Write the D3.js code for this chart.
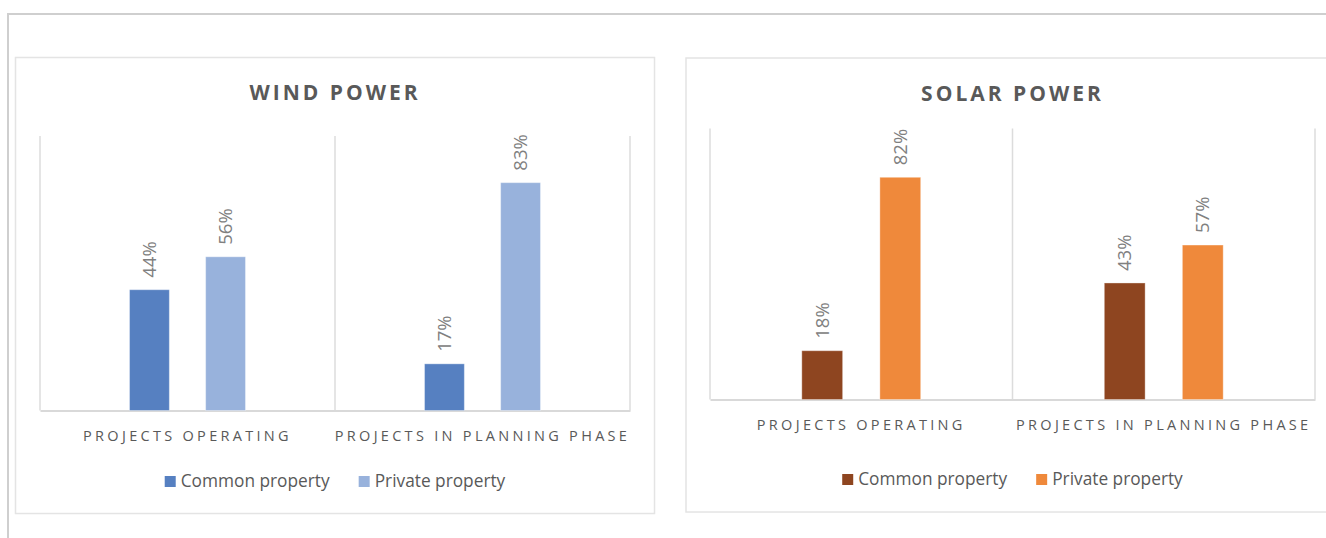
<!DOCTYPE html>
<html>
<head>
<meta charset="utf-8">
<script src="https://cdn.jsdelivr.net/npm/d3@7"></script>
<style>
  html, body { margin: 0; padding: 0; background: #fff; }
  svg { display: block; }
  text { font-family: "Open Sans", "Noto Sans", sans-serif; }
</style>
</head>
<body>
<svg id="chart" width="1326" height="538"></svg>
<script>
// Share of projects by land ownership
const categories = ["PROJECTS OPERATING", "PROJECTS IN PLANNING PHASE"];
const seriesNames = ["Common property", "Private property"];

const windCommon = [0.44, 0.17];
const windPrivate = [0.56, 0.83];
const solarCommon = [0.18, 0.43];
const solarPrivate = [0.82, 0.57];

const panels = [
  {
    title: "WIND POWER",
    common: windCommon, priv: windPrivate,
    colors: ["#5680c1", "#98b2dc"],
    box: { x: 15.5, y: 57.5, w: 639, h: 456 },
    plot: { left: 40, right: 630, top: 136, bottom: 410.5 },
    titleY: 99.5, catY: 441, legendY: 482
  },
  {
    title: "SOLAR POWER",
    common: solarCommon, priv: solarPrivate,
    colors: ["#8e4520", "#ef893b"],
    box: { x: 686, y: 58, w: 700, h: 454 },
    plot: { left: 710, right: 1315, top: 128.5, bottom: 399.5 },
    titleY: 101, catY: 429.5, legendY: 480
  }
];

const svg = d3.select("#chart");
svg.append("rect").attr("width", 1326).attr("height", 538).attr("fill", "#fff");

// outer page frame
svg.append("path")
  .attr("d", "M8,538 V14 H1326")
  .attr("fill", "none").attr("stroke", "#cfcfcf").attr("stroke-width", 2);

panels.forEach(p => {
  const g = svg.append("g");

  g.append("rect")
    .attr("x", p.box.x).attr("y", p.box.y)
    .attr("width", p.box.w).attr("height", p.box.h)
    .attr("fill", "#fff").attr("stroke", "#e4e4e4").attr("stroke-width", 1.5);

  const x0 = d3.scaleBand().domain(categories)
    .range([p.plot.left, p.plot.right]).padding(0);
  const bw = x0.bandwidth();
  const x1 = d3.scaleBand().domain(seriesNames)
    .range([0.3035 * bw, 0.6965 * bw]).paddingInner(0.477).paddingOuter(0);
  const y = d3.scaleLinear().domain([0, 1]).range([p.plot.bottom, p.plot.top]);

  // vertical category separators
  const edges = categories.map(c => x0(c)).concat([p.plot.right]);
  g.selectAll("line.sep").data(edges).join("line")
    .attr("class", "sep")
    .attr("x1", d => d).attr("x2", d => d)
    .attr("y1", y(1)).attr("y2", y(0))
    .attr("stroke", "#dcdcdc").attr("stroke-width", 1.5);

  // baseline axis
  const axis = g.append("g")
    .attr("transform", `translate(0,${y(0)})`)
    .call(d3.axisBottom(x0).tickSize(0).tickFormat(""));
  axis.select(".domain").attr("stroke", "#d9d9d9").attr("stroke-width", 2);

  // title
  g.append("text")
    .attr("x", (p.plot.left + p.plot.right) / 2)
    .attr("y", p.titleY)
    .attr("text-anchor", "middle")
    .attr("font-size", 21).attr("font-weight", 700)
    .attr("letter-spacing", "3px")
    .attr("fill", "#595959")
    .text(p.title);

  // bars
  const rows = categories.map((c, i) => ({
    cat: c,
    vals: [
      { s: seriesNames[0], v: p.common[i], color: p.colors[0] },
      { s: seriesNames[1], v: p.priv[i], color: p.colors[1] }
    ]
  }));

  const cg = g.selectAll("g.cat").data(rows).join("g")
    .attr("class", "cat")
    .attr("transform", d => `translate(${x0(d.cat)},0)`);

  cg.selectAll("rect").data(d => d.vals).join("rect")
    .attr("x", d => x1(d.s))
    .attr("width", x1.bandwidth())
    .attr("y", d => y(d.v))
    .attr("height", d => y(0) - y(d.v))
    .attr("fill", d => d.color)
    .attr("stroke", "#ffffff").attr("stroke-opacity", 0.35).attr("stroke-width", 1);

  cg.selectAll("text.val").data(d => d.vals).join("text")
    .attr("class", "val")
    .attr("transform", d => `translate(${x1(d.s) + x1.bandwidth() / 2},${y(d.v) - 12}) rotate(-90)`)
    .attr("dy", "0.36em")
    .attr("text-anchor", "start")
    .attr("font-size", 18.5)
    .attr("fill", "#808080")
    .text(d => Math.round(d.v * 100) + "%");

  // category labels
  g.selectAll("text.cat").data(categories).join("text")
    .attr("class", "cat")
    .attr("x", d => x0(d) + bw / 2)
    .attr("y", p.catY)
    .attr("text-anchor", "middle")
    .attr("font-size", 14.5)
    .attr("letter-spacing", "3.3px")
    .attr("fill", "#595959")
    .text(d => d);

  // legend
  const lg = g.append("g");
  let cx = 0;
  seriesNames.forEach((s, i) => {
    const item = lg.append("g").attr("transform", `translate(${cx},0)`);
    item.append("rect")
      .attr("x", 0).attr("y", -11).attr("width", 11).attr("height", 11)
      .attr("fill", p.colors[i]);
    const t = item.append("text")
      .attr("x", 16).attr("y", 0)
      .attr("font-size", 17.3)
      .attr("fill", "#595959")
      .text(s);
    const w = t.node().getComputedTextLength();
    cx += 16 + w + 29;
  });
  const total = cx - 29;
  lg.attr("transform", `translate(${(p.plot.left + p.plot.right) / 2 - total / 2},${p.legendY + 5})`);
});
</script>
</body>
</html>
